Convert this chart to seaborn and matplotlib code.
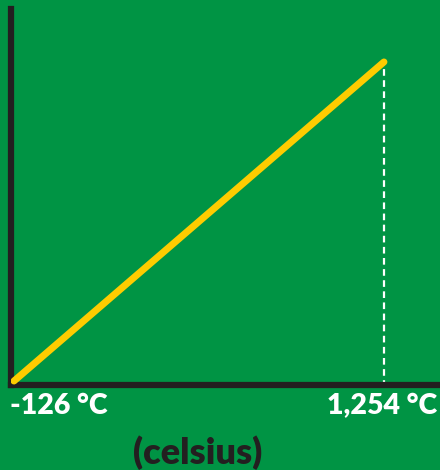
import numpy as np
import pandas as pd
import seaborn as sns
import matplotlib.pyplot as plt
import matplotlib.transforms as mtrans

# data
temps_c = [-126, 1254]
levels = [-126, 1254]
tick_labels = ['-126 °C', '1,254 °C']
axis_label = '(celsius)'

green = '#009444'
yellow = '#fecc00'
dark = '#231f20'

sns.set_style('white')
plt.rcParams['font.family'] = ['Lato', 'DejaVu Sans']

df = pd.DataFrame({'celsius': temps_c, 'level': levels})

fig = plt.figure(figsize=(4.4, 4.7), dpi=100, facecolor=green)
ax = fig.add_axes([11 / 440, 1 - 384.5 / 470, 429 / 440, 375.5 / 470])
ax.set_facecolor(green)

# dashed drop line at the max value
ax.vlines(temps_c[-1], -200, levels[-1], colors='white', linestyles=(0, (3, 2)),
          linewidth=1.6, zorder=2)

sns.lineplot(data=df, x='celsius', y='level', color=yellow, linewidth=5,
             solid_capstyle='round', ax=ax, zorder=3)

ax.set_xlim(-137, 1463)
ax.set_ylim(-141, 1483)

for side in ['top', 'right']:
    ax.spines[side].set_visible(False)
for side in ['left', 'bottom']:
    ax.spines[side].set_color(dark)
    ax.spines[side].set_linewidth(4.5)
    ax.spines[side].set_capstyle('projecting')

ax.set_xticks([])
ax.set_yticks([])
ax.set_xlabel('')
ax.set_ylabel('')

# end labels under the axis
trans = mtrans.blended_transform_factory(ax.transData, ax.transAxes)
shift = [mtrans.offset_copy(trans, fig=fig, x=-4, y=-9, units='dots'),
         mtrans.offset_copy(trans, fig=fig, x=53, y=-9, units='dots')]
aligns = ['left', 'right']
for t, lab, tr, ha in zip(temps_c, tick_labels, shift, aligns):
    ax.text(t, 0, lab, transform=tr, ha=ha, va='top', color='white',
            fontsize=20.5, fontweight='heavy', clip_on=False)

fig.text(198 / 440, 1 - 453 / 470, axis_label, color=dark, fontsize=26,
         fontweight='heavy', ha='center', va='center')

fig.savefig('out.png', dpi=100, facecolor=green)
